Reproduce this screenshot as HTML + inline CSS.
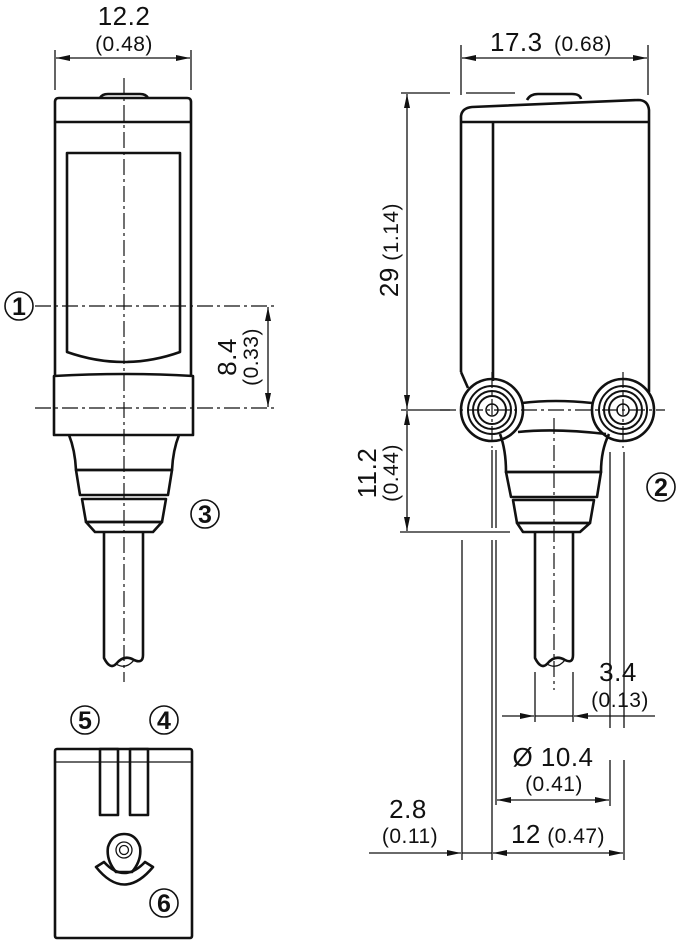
<!DOCTYPE html>
<html><head><meta charset="utf-8"><style>
html,body{margin:0;padding:0;background:#fff}
svg{display:block}
text{font-family:"Liberation Sans",sans-serif;fill:#111}
.b{fill:none;stroke:#111;stroke-width:2.6;stroke-linejoin:round}
.t{fill:none;stroke:#111;stroke-width:1.3}
.c{fill:none;stroke:#111;stroke-width:1.2;stroke-dasharray:16 4 3 4}
.n{font-size:26px;letter-spacing:0.5px}
.p{font-size:21px;letter-spacing:0.5px}
.ci{fill:#fff;stroke:#111;stroke-width:1.6}
.cn{font-size:25px;text-anchor:middle;font-weight:bold}
</style></head><body>
<svg width="684" height="940" viewBox="0 0 684 940" xmlns="http://www.w3.org/2000/svg">
<defs>
<marker id="a" markerWidth="14" markerHeight="8" refX="14" refY="4" orient="auto-start-reverse" markerUnits="userSpaceOnUse"><path d="M0,1 L14,4 L0,7 Z" fill="#111"/></marker>
</defs>

<!-- LEFT VIEW -->
<line class="t" x1="55" y1="50" x2="55" y2="90"/><line class="t" x1="191" y1="50" x2="191" y2="90"/>
<line class="t" x1="56" y1="58" x2="190" y2="58" marker-start="url(#a)" marker-end="url(#a)"/>
<text class="n" x="124" y="25" text-anchor="middle">12.2</text>
<text class="p" x="124" y="51" text-anchor="middle">(0.48)</text>
<path class="b" d="M100,98 Q102,94 108,94 L140,94 Q146,94 148,98"/>
<path class="b" d="M55,376 L55,102 Q55,98 59,98 L187,98 Q191,98 191,102 L191,376"/>
<line class="b" x1="55" y1="122" x2="191" y2="122"/>
<path class="b" d="M67,352 L67,153 L180,153 L180,352 Q124,372 67,352 Z"/>
<path class="b" d="M54,376 Q124,372 193,376 L193,435 L54,435 Z"/>
<path class="b" d="M69,435 Q75,450 76,470 L172,470 Q173,450 179,435"/>
<path class="b" d="M76,470 L172,470 L168,495 L80,495 Z"/>
<path class="b" d="M82,499 L166,499 L162,522 L86,522 Z"/>
<path class="b" d="M86,522 L162,522 L153,532 L95,532 Z"/>
<path class="b" d="M104,532 L104,658 Q110,670 116,664 Q124,654 134,660 Q143,664 143,655 L143,532"/>
<path class="t" d="M116,664 Q126,670 134,660"/>
<line class="c" x1="124" y1="78" x2="124" y2="682"/>
<line class="c" x1="35" y1="306" x2="278" y2="306"/>
<line class="c" x1="35" y1="408" x2="278" y2="408"/>
<line class="t" x1="268" y1="307" x2="268" y2="407" marker-start="url(#a)" marker-end="url(#a)"/>
<text class="n" transform="translate(236,357) rotate(-90)" text-anchor="middle">8.4</text>
<text class="p" transform="translate(258,357) rotate(-90)" text-anchor="middle">(0.33)</text>
<circle class="ci" cx="19" cy="306" r="14"/><text class="cn" x="19" y="315">1</text>
<circle class="ci" cx="205" cy="514" r="14"/><text class="cn" x="205" y="523">3</text>

<!-- BOTTOM LEFT VIEW -->
<circle class="ci" cx="85" cy="720" r="14"/><text class="cn" x="85" y="729">5</text>
<circle class="ci" cx="164" cy="720" r="14"/><text class="cn" x="164" y="729">4</text>
<rect class="b" x="55" y="749" width="137" height="189" rx="2"/>
<line class="t" x1="55" y1="762" x2="192" y2="762"/>
<rect class="b" x="100" y="749" width="18" height="66" fill="#fff"/>
<rect class="b" x="130" y="749" width="18" height="66" fill="#fff"/>
<path class="b" d="M116,872 Q106,860 108,847 Q112,834 124,834 Q136,834 140,847 Q142,860 132,872 Z"/>
<circle class="t" cx="124" cy="850" r="8"/><circle class="t" cx="124" cy="850" r="4.5"/>
<path class="b" d="M96,867 Q124,902 153,867 L145,862 Q124,884 104,862 Z"/>
<circle class="ci" cx="164" cy="903" r="14"/><text class="cn" x="164" y="912">6</text>

<!-- RIGHT VIEW -->
<line class="t" x1="461" y1="45" x2="461" y2="95"/><line class="t" x1="648" y1="45" x2="648" y2="95"/>
<line class="t" x1="462" y1="58" x2="647" y2="58" marker-start="url(#a)" marker-end="url(#a)"/>
<text class="n" x="490" y="51">17.3</text><text class="p" x="554" y="51">(0.68)</text>
<path class="b" d="M527,100 Q530,94 538,94 L572,94 Q580,94 581,99"/>
<path class="b" d="M461,372 L461,116 Q462,108 472,107 L638,100 Q648,100 649,110 L649,392"/>
<line class="b" x1="461" y1="122" x2="649" y2="122"/>
<line class="b" x1="493" y1="122" x2="493" y2="381"/>
<path class="b" d="M461,372 L468,388"/>
<path class="b" d="M522,403 Q555,399 592,403"/>
<g class="b">
<circle cx="492" cy="410" r="31"/><circle cx="492" cy="410" r="24" stroke-width="2"/><circle cx="492" cy="410" r="19" stroke-width="2"/><circle cx="492" cy="410" r="14" stroke-width="2"/><circle cx="492" cy="410" r="6" stroke-width="1.5"/>
<circle cx="623" cy="410" r="31"/><circle cx="623" cy="410" r="24" stroke-width="2"/><circle cx="623" cy="410" r="19" stroke-width="2"/><circle cx="623" cy="410" r="14" stroke-width="2"/><circle cx="623" cy="410" r="6" stroke-width="1.5"/>
</g>
<path class="b" d="M518,432 Q555,428 606,434"/>
<path class="b" d="M500,434 Q506,450 506,472 L601,472 Q601,450 609,434"/>
<path class="b" d="M506,472 L601,472 L597,497 L511,497 Z"/>
<path class="b" d="M513,500 L594,500 L590,523 L517,523 Z"/>
<path class="b" d="M517,523 L590,523 L580,532 L523,532 Z"/>
<path class="b" d="M535,532 L535,658 Q541,670 547,664 Q555,654 565,660 Q573,664 573,655 L573,532"/>
<path class="t" d="M547,664 Q557,670 565,660"/>
<line class="c" x1="554" y1="418" x2="554" y2="690"/>
<line class="c" x1="440" y1="410" x2="665" y2="410"/>
<line class="c" x1="492" y1="372" x2="492" y2="448"/>
<line class="c" x1="623" y1="372" x2="623" y2="448"/>
<!-- dims -->
<line class="t" x1="401" y1="93" x2="450" y2="93"/><line class="t" x1="466" y1="93" x2="515" y2="93"/>
<line class="t" x1="401" y1="410" x2="450" y2="410"/>
<line class="t" x1="407" y1="94" x2="407" y2="409" marker-start="url(#a)" marker-end="url(#a)"/>
<text transform="translate(398,250) rotate(-90)" text-anchor="middle"><tspan class="n">29</tspan><tspan class="p"> (1.14)</tspan></text>
<line class="t" x1="407" y1="411" x2="407" y2="531" marker-start="url(#a)" marker-end="url(#a)"/>
<line class="t" x1="400" y1="532" x2="510" y2="532"/>
<text class="n" transform="translate(376,473) rotate(-90)" text-anchor="middle">11.2</text>
<text class="p" transform="translate(398,473) rotate(-90)" text-anchor="middle">(0.44)</text>
<circle class="ci" cx="661" cy="487" r="14"/><text class="cn" x="661" y="496">2</text>
<line class="t" x1="462" y1="540" x2="462" y2="860"/>
<line class="t" x1="492" y1="450" x2="492" y2="528"/><line class="t" x1="492" y1="540" x2="492" y2="860"/>
<line class="t" x1="496" y1="450" x2="496" y2="528"/><line class="t" x1="496" y1="540" x2="496" y2="805"/>
<line class="t" x1="610" y1="452" x2="610" y2="728"/><line class="t" x1="610" y1="760" x2="610" y2="806"/>
<line class="t" x1="624" y1="452" x2="624" y2="728"/><line class="t" x1="624" y1="760" x2="624" y2="860"/>
<line class="t" x1="535" y1="672" x2="535" y2="722"/><line class="t" x1="573" y1="672" x2="573" y2="722"/>
<line class="t" x1="502" y1="716" x2="534" y2="716" marker-end="url(#a)"/>
<line class="t" x1="535" y1="716" x2="573" y2="716"/>
<line class="t" x1="655" y1="716" x2="574" y2="716" marker-end="url(#a)"/>
<text class="n" x="618" y="681" text-anchor="middle">3.4</text>
<text class="p" x="620" y="707" text-anchor="middle">(0.13)</text>
<line class="t" x1="497" y1="800" x2="609" y2="800" marker-start="url(#a)" marker-end="url(#a)"/>
<text class="n" x="553" y="766" text-anchor="middle">Ø 10.4</text>
<text class="p" x="554" y="791" text-anchor="middle">(0.41)</text>
<line class="t" x1="369" y1="853" x2="461" y2="853" marker-end="url(#a)"/>
<line class="t" x1="462" y1="853" x2="492" y2="853"/>
<line class="t" x1="493" y1="853" x2="623" y2="853" marker-start="url(#a)" marker-end="url(#a)"/>
<text class="n" x="408" y="818" text-anchor="middle">2.8</text>
<text class="p" x="410" y="843" text-anchor="middle">(0.11)</text>
<text x="558" y="843" text-anchor="middle"><tspan class="n">12</tspan><tspan class="p"> (0.47)</tspan></text>
</svg>
</body></html>
